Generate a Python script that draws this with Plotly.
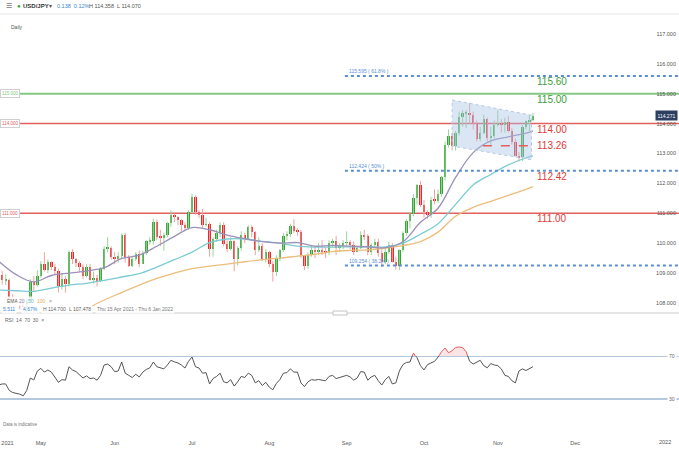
import plotly.graph_objects as go
import pandas as pd

# ---------------- data ----------------
dates = pd.bdate_range("2021-04-15", "2021-11-15")

opens = [109.05,108.94,108.76,108.78,108.13,108.09,108.07,107.96,107.88,108.08,108.70,108.61,
         108.90,109.31,109.10,109.36,109.20,109.08,108.58,108.80,108.62,109.69,109.48,109.35,109.20,108.90,109.22,108.78,108.85,108.75,109.15,109.82,109.85,
         109.55,109.50,109.56,110.29,109.54,109.25,109.47,109.63,109.32,109.67,110.06,110.07,110.71,110.21,110.19,110.27,110.66,110.95,110.88,110.76,110.62,110.52,
         111.05,111.54,111.04,110.96,110.62,110.64,109.80,110.15,110.35,110.62,109.96,109.81,110.07,109.48,109.83,110.27,110.14,110.55,110.38,109.78,109.91,109.47,
         109.71,109.29,109.04,109.48,109.76,110.25,110.31,110.59,110.41,110.38,109.59,109.24,109.61,109.76,109.72,109.78,109.73,109.69,110.00,110.07,109.84,109.91,
         110.01,110.04,109.93,109.71,109.84,110.28,110.24,109.71,109.93,110.03,109.68,109.37,109.71,109.93,109.38,109.23,109.78,110.33,110.74,110.99,111.50,111.95,
         111.29,111.05,110.93,111.45,111.42,111.63,112.21,113.28,113.60,113.25,113.67,114.22,114.34,114.35,114.30,114.01,113.48,113.69,114.14,113.53,113.58,
         113.96,114.01,113.98,114.04,113.76,113.40,112.91,112.88,113.89,114.08,114.13]
highs = [109.15,109.08,108.95,108.82,108.30,108.20,108.20,108.10,108.15,108.80,108.90,109.10,
         109.40,109.70,109.45,109.40,109.30,109.15,109.00,108.90,109.75,109.80,109.50,109.40,109.30,109.30,109.30,109.05,108.95,109.20,109.90,110.20,109.90,
         109.70,109.70,110.33,110.35,109.60,109.55,109.70,109.75,109.75,110.10,110.20,110.82,110.80,110.45,110.35,110.70,111.10,111.00,110.90,110.80,110.70,111.10,
         111.66,111.60,111.10,111.15,110.85,110.70,110.20,110.45,110.70,110.70,110.10,110.20,110.10,109.90,110.40,110.35,110.60,110.60,110.40,110.20,110.00,109.80,
         109.75,109.40,109.60,109.80,110.35,110.40,110.65,110.80,110.50,110.45,109.60,109.70,109.90,109.90,110.00,110.10,109.85,110.10,110.15,110.25,110.00,110.10,
         110.40,110.10,110.05,109.90,110.40,110.45,110.30,110.00,110.15,110.15,109.80,109.85,110.05,110.00,109.55,109.80,110.40,110.80,111.05,111.65,111.98,112.08,
         111.45,111.10,111.55,111.80,111.80,112.25,113.40,113.80,113.70,113.75,114.40,114.45,114.45,114.70,114.40,114.10,113.90,114.30,114.20,113.90,114.10,
         114.45,114.15,114.20,114.25,113.85,113.50,113.05,113.95,114.10,114.30,114.358]
lows = [108.85,108.61,108.60,108.10,107.86,107.95,107.79,107.48,107.60,108.05,108.40,108.55,
        108.85,109.05,109.00,109.10,108.95,108.35,108.45,108.35,108.55,109.30,109.20,109.05,108.80,108.85,108.75,108.65,108.55,108.70,109.10,109.70,109.45,
        109.30,109.35,109.50,109.35,109.20,109.20,109.40,109.20,109.30,109.60,109.95,109.95,110.10,109.90,109.75,110.20,110.55,110.70,110.60,110.40,110.40,110.45,
        111.00,110.95,110.85,110.50,110.55,109.55,109.55,110.05,110.20,109.90,109.70,109.75,109.06,109.25,109.75,110.00,110.10,110.20,109.60,109.70,109.40,109.35,
        109.20,108.72,108.90,109.40,109.70,110.10,110.20,110.35,110.25,109.50,109.10,109.15,109.55,109.50,109.60,109.60,109.50,109.60,109.85,109.60,109.70,109.80,
        109.90,109.80,109.60,109.70,109.80,110.10,109.60,109.60,109.85,109.55,109.20,109.30,109.65,109.35,109.11,109.10,109.70,110.25,110.50,110.90,111.30,111.20,
        110.85,110.82,110.85,111.30,111.35,111.55,112.10,113.20,113.10,113.10,113.60,113.90,113.85,114.00,113.80,113.40,113.40,113.65,113.40,113.25,113.50,
        113.90,113.70,113.70,113.70,113.30,112.90,112.73,112.75,113.80,113.75,114.07]
closes = [108.94,108.76,108.78,108.13,108.09,108.07,107.96,107.88,108.08,108.70,108.61,108.90,
          109.31,109.10,109.36,109.20,109.08,108.58,108.80,108.62,109.69,109.48,109.35,109.20,108.90,109.22,108.78,108.85,108.75,109.15,109.82,109.85,109.55,
          109.50,109.56,110.29,109.54,109.25,109.47,109.63,109.32,109.67,110.06,110.07,110.71,110.21,110.19,110.27,110.66,110.95,110.88,110.76,110.62,110.52,111.05,
          111.54,111.04,110.96,110.62,110.64,109.80,110.15,110.35,110.62,109.96,109.81,110.07,109.48,109.83,110.27,110.14,110.55,110.38,109.78,109.91,109.47,109.71,
          109.29,109.04,109.48,109.76,110.25,110.31,110.59,110.41,110.38,109.59,109.24,109.61,109.76,109.72,109.78,109.73,109.69,110.00,110.07,109.84,109.91,110.01,
          110.04,109.93,109.71,109.84,110.28,110.24,109.71,109.93,110.03,109.68,109.37,109.71,109.93,109.38,109.23,109.78,110.33,110.74,110.99,111.50,111.95,111.29,
          111.05,110.93,111.45,111.42,111.63,112.21,113.28,113.60,113.25,113.67,114.22,114.34,114.35,114.30,114.01,113.48,113.69,114.14,113.53,113.58,113.96,
          114.01,113.98,114.04,113.76,113.40,112.91,112.88,113.89,114.08,114.13,114.271]

# EMA readings, sampled every 5 sessions (index into dates)
ema_idx = [0,5,10,15,20,25,30,35,40,45,50,55,60,65,70,75,80,85,90,95,100,105,110,115,120,125,130,135,140,145,150,152]
ema20 = [109.40,108.95,108.71,108.92,109.00,109.07,109.18,109.49,109.60,109.90,110.23,110.52,110.45,110.27,110.15,110.05,
         110.00,110.02,109.90,109.93,109.90,109.88,109.85,110.05,110.70,111.17,112.20,113.03,113.42,113.56,113.68,113.76]
ema50 = [108.43,108.41,108.39,108.50,108.60,108.66,108.76,108.87,108.98,109.20,109.45,109.70,110.02,110.14,110.14,110.06,
         110.00,109.90,109.87,109.87,109.88,109.88,109.88,110.00,110.30,110.65,111.30,111.95,112.30,112.62,112.85,112.92]
ema100 = [106.80,107.05,107.30,107.50,107.65,107.82,108.10,108.35,108.60,108.82,109.00,109.15,109.23,109.30,109.38,109.45,
          109.50,109.57,109.63,109.72,109.76,109.78,109.84,109.92,110.05,110.37,110.90,111.20,111.40,111.60,111.80,111.89]

rsi = [43,44,44,38,36,35.6,34.5,33,38,49.5,47.7,56,58.5,55,57,55,50,45.5,48,47.5,60,57,55.5,52,49.5,51.5,49,49.5,47.5,52,
       61.6,62.5,60,55.5,56,64.4,54,52,50,53,50.5,55,57.5,59,64.4,60,59,58,61.6,66,64.5,63.5,61.6,58.8,65,69,60,58.8,
       54,54.5,44,49,51,54,46,45,48,42,46,51,50,54,52,45,47,42.5,45.5,41,38.5,44.5,48,54,54.5,58,55,55,45,41.5,46,48,47.5,
       48.2,47.5,47,51,52,49,50,51.5,52,50.5,47.5,49.5,55.5,55,47.5,50.5,52,47,43,48,51,44,45,56,62,64,64.4,72.8,68.5,61,
       57,62,63.5,65,69,74,77.4,73,75,78,78.4,77.8,74,65,62.5,64.5,66,61,59,63,61.6,61,58,52,51,47,45,56,58,56.5,58,60]

price_ticks = [108, 109, 110, 111, 112, 113, 114, 115, 116, 117]
rsi_levels = [70, 30]
h_levels = [115.0, 114.0, 111.0]
h_colors = ["#84c884", "#e26060", "#e26060"]
fib_levels = [115.595, 112.424, 109.254]
fib_text = ["115.595 ( 61.8% )", "112.424 ( 50% )", "109.254 ( 38.2% )"]
big_labels = ["115.60", "115.00", "114.00", "113.26", "112.42", "111.00"]
big_values = [115.595, 115.0, 114.0, 113.26, 112.424, 111.0]
big_colors = ["#3c9e3c", "#3c9e3c", "#e23a3a", "#e23a3a", "#e23a3a", "#e23a3a"]
channel_x = ["2021-10-13", "2021-11-12 14:00", "2021-11-12 14:00", "2021-10-13", "2021-10-13"]
channel_y = [114.79, 114.28, 112.79, 113.25, 114.79]
month_vals = ["2021-04-19 12:00", "2021-05-03", "2021-06-01", "2021-07-01", "2021-08-02", "2021-09-01",
              "2021-10-01", "2021-11-01", "2021-12-01"]
month_text = ["2021", "May", "Jun", "Jul", "Aug", "Sep", "Oct", "Nov", "Dec"]

# ---------------- figure ----------------
W, H = 679, 449
FONT = "Liberation Sans, Arial, sans-serif"
def px(x): return x / W
def py(y): return 1 - y / H

fig = go.Figure()
GREEN, RED = "#36a336", "#e42b2b"
GW, RW = "#98d498", "#f2a0a0"

# wicks
for up, col in [(True, GW), (False, RW)]:
    wx, wy = [], []
    for d, o, h, l, c in zip(dates, opens, highs, lows, closes):
        if (c >= o) == up:
            wx += [d, d, None]; wy += [l, h, None]
    fig.add_trace(go.Scatter(x=wx, y=wy, mode="lines", line=dict(color=col, width=1),
                             hoverinfo="skip", xaxis="x", yaxis="y"))
# bodies
fig.add_trace(go.Bar(x=dates, y=[max(abs(c - o), 0.02) for o, c in zip(opens, closes)],
                     base=[min(o, c) for o, c in zip(opens, closes)],
                     marker=dict(color=[GREEN if c >= o else RED for o, c in zip(opens, closes)], line=dict(width=0)),
                     width=0.68 * 86400000, xaxis="x", yaxis="y"))

ema_dates = [dates[i] for i in ema_idx]
for vals, col in [(ema100, "#ebbd7c"), (ema50, "#7ccbd3"), (ema20, "#9b90b8")]:
    fig.add_trace(go.Scatter(x=ema_dates, y=vals, mode="lines", line=dict(color=col, width=1.3, shape="spline"),
                             xaxis="x", yaxis="y"))

# channel
fig.add_trace(go.Scatter(x=channel_x, y=channel_y, mode="lines", fill="toself",
                         fillcolor="rgba(170,195,228,0.42)", line=dict(color="#b3c8e6", width=1, dash="dot"),
                         xaxis="x", yaxis="y"))

# RSI
fig.add_trace(go.Scatter(x=dates, y=rsi, mode="lines", line=dict(color="#555555", width=1), xaxis="x", yaxis="y2"))
fig.add_trace(go.Scatter(x=dates, y=rsi, mode="lines", line=dict(color="#ec5a5e", width=1), fill="tozeroy",
                         fillcolor="rgba(240,130,140,0.22)", xaxis="x", yaxis="y3"))

shapes = []
for lv, col in zip(h_levels, h_colors):
    shapes.append(dict(type="line", xref="paper", yref="y", x0=0, x1=1, y0=lv, y1=lv,
                       line=dict(color=col, width=2 if lv == 115.0 else 1.5), layer="below"))
for lv in fib_levels:
    shapes.append(dict(type="line", xref="x", yref="y", x0="2021-08-31 12:00", x1="2022-03-01", y0=lv, y1=lv,
                       line=dict(color="#5a8fd8", width=2, dash="dot")))
shapes.append(dict(type="line", xref="x", yref="y", x0="2021-10-25 18:00", x1="2021-11-12 14:00", y0=113.26, y1=113.26,
                   line=dict(color="#e26060", width=1.5, dash="dash")))
for lv in rsi_levels:
    shapes.append(dict(type="line", xref="paper", yref="y2", x0=0, x1=1, y0=lv, y1=lv,
                       line=dict(color="#b6c8de", width=2), layer="below"))
shapes.append(dict(type="line", xref="paper", yref="paper", x0=0, x1=1, y0=py(313), y1=py(313),
                   line=dict(color="#dddddd", width=1.5)))
shapes.append(dict(type="line", xref="paper", yref="paper", x0=0, x1=1, y0=py(14), y1=py(14),
                   line=dict(color="#e6e6e6", width=1)))
shapes.append(dict(type="rect", xref="paper", yref="paper", x0=px(333), x1=px(347), y0=py(315), y1=py(311),
                   line=dict(color="#c4c4c4", width=1), fillcolor="white"))

ann = []
def A(x, y, text, size=5, color="#555", xanchor="left", **kw):
    ann.append(dict(xref="paper", yref="paper", x=px(x), y=py(y), text=text, showarrow=False,
                    xanchor=xanchor, yanchor="middle", font=dict(family=FONT, size=size, color=color), **kw))

# header
A(4, 6, "☰", size=7, color="#777")
A(15, 6, "●", size=6, color="#2ca02c")
A(21, 6, "<b>USD/JPY</b>", size=6, color="#333")
A(47, 6, "▾", size=6, color="#555")
A(55, 6, "0.138  0.12%", size=5.5, color="#3a86d4")
A(87, 6, "H 114.358  L 114.070", size=5.5, color="#555")
A(9, 27, "Daily", size=5, color="#555")
# EMA legend
WB = "rgba(255,255,255,0.85)"
A(5, 301, "EMA", size=5, color="#666", bgcolor=WB)
A(17, 301, "20", size=5, color="#8f86aa", bgcolor=WB)
A(26, 301, "50", size=5, color="#5fb9c3", bgcolor=WB)
A(35, 301, "100", size=5, color="#e2a85a", bgcolor=WB)
A(47, 301, "×", size=5, color="#888", bgcolor=WB)
A(1, 309, "5.511", size=5, color="#3a86d4", bgcolor=WB)
A(21, 309, "4.67%", size=5, color="#3a86d4", bgcolor=WB)
A(41, 309, "H 114.700", size=5, color="#666", bgcolor=WB)
A(67, 309, "L 107.478", size=5, color="#666", bgcolor=WB)
A(95, 309, "Thu 15 Apr 2021 - Thu 6 Jan 2022", size=5, color="#777", bgcolor=WB)
A(3, 320, "RSI  14  70  30  ×", size=5, color="#666")
A(1, 424, "Data is indicative", size=4.5, color="#777")
A(665, 442, "2022", size=5.5, color="#555", xanchor="center")

# RSI level labels
for lv in rsi_levels:
    ann.append(dict(xref="paper", yref="y2", x=1, y=lv, text=str(lv), showarrow=False, xanchor="right",
                    yanchor="middle", xshift=-2, bgcolor="white",
                    font=dict(family=FONT, size=5, color="#666")))
# left level boxes
for lv, col in zip(h_levels, h_colors):
    ann.append(dict(xref="paper", yref="y", x=0, y=lv, text=f"{lv:.3f}", showarrow=False, xanchor="left",
                    yanchor="middle", bgcolor="white", bordercolor="#d0d0d0", borderwidth=1, borderpad=1,
                    font=dict(family=FONT, size=4.5, color=col)))
# fib labels
for lv, t in zip(fib_levels, fib_text):
    ann.append(dict(xref="x", yref="y", x="2021-09-01", y=lv, text=t, showarrow=False, xanchor="left",
                    yanchor="bottom", yshift=0, font=dict(family=FONT, size=5, color="#5a8fd8")))
# big right labels
for t, v, c in zip(big_labels, big_values, big_colors):
    mid = (t == "113.26")
    ann.append(dict(xref="paper", yref="y", x=px(535), y=v, text=t, showarrow=False, xanchor="left",
                    yanchor="middle" if mid else "top", yshift=0 if mid else 2,
                    font=dict(family=FONT, size=10, color=c)))
# last price box
ann.append(dict(xref="paper", yref="y", x=1, y=closes[-1], text=f"{closes[-1]:.3f}", showarrow=False,
                xanchor="right", yanchor="middle", xshift=-1, bgcolor="#2d3f60", borderpad=1.5,
                font=dict(family=FONT, size=5, color="white")))

fig.update_layout(
    width=W, height=H, margin=dict(l=0, r=0, t=0, b=0),
    paper_bgcolor="white", plot_bgcolor="white", showlegend=False,
    barmode="overlay", bargap=0, shapes=shapes, annotations=ann,
    xaxis=dict(type="date", range=["2021-04-15 09:05", "2022-01-11 13:12"],
               rangebreaks=[dict(bounds=["sat", "mon"])], anchor="free", position=py(438),
               showgrid=False, zeroline=False, showline=False, ticks="",
               tickvals=month_vals, ticktext=month_text,
               tickfont=dict(family=FONT, size=5.5, color="#555")),
    yaxis=dict(domain=[py(313), py(15)], range=[107.666, 117.632], side="right", ticklabelposition="inside",
               tickvals=price_ticks, ticktext=[f"{t:.3f}" for t in price_ticks], ticks="",
               showgrid=False, zeroline=False, showline=False,
               tickfont=dict(family=FONT, size=5.5, color="#555")),
    yaxis2=dict(domain=[py(412), py(316)], range=[17.9, 107.2], showticklabels=False,
                ticks="", showgrid=False, zeroline=False),
    yaxis3=dict(domain=[py(356), py(316)], range=[70, 107.2], visible=False),
)

fig.write_html("out.html", config={"displayModeBar": False},
               post_script="document.body.style.margin='0';document.body.style.overflow='hidden';")
